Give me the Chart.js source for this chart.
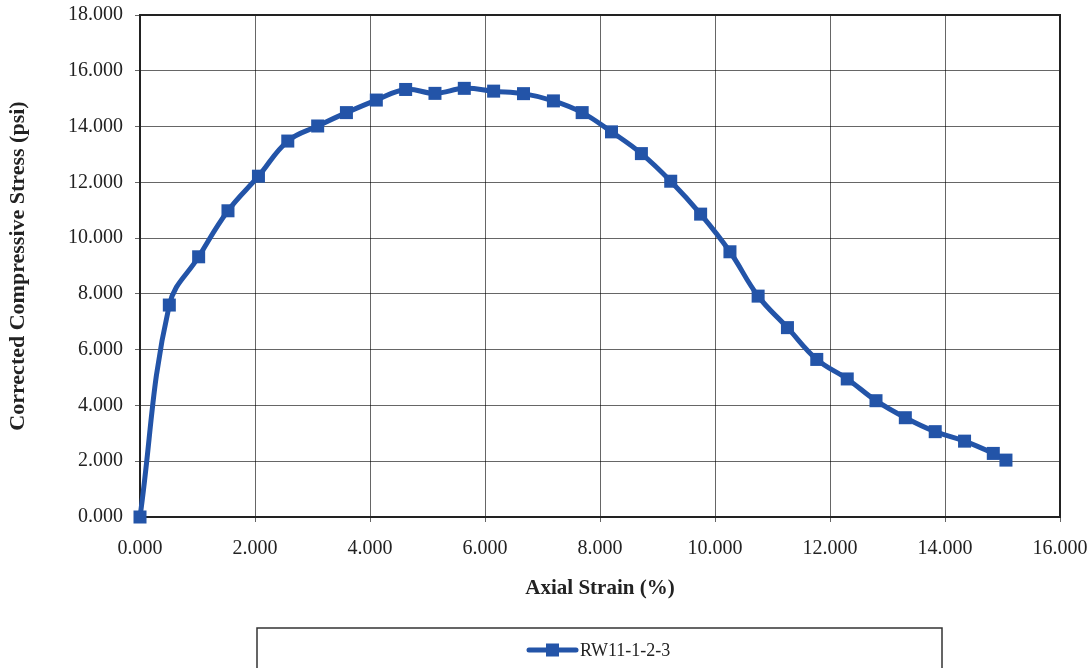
<!DOCTYPE html>
<html>
<head>
<meta charset="utf-8">
<script src="https://cdn.jsdelivr.net/npm/chart.js@4/dist/chart.umd.min.js"></script>
<style>
  html, body { margin: 0; padding: 0; background: #ffffff; }
  #wrap { width: 1092px; height: 668px; }
</style>
</head>
<body>
<div id="wrap"><canvas id="c" width="1092" height="668"></canvas></div>
<script>
// ---- data ----
const seriesName = "RW11-1-2-3";
const axialStrain = [0, 0.51, 1.02, 1.53, 2.06, 2.57, 3.09, 3.59, 4.11, 4.62, 5.13, 5.64, 6.15, 6.67, 7.19, 7.69, 8.20, 8.72, 9.23, 9.75, 10.26, 10.75, 11.26, 11.77, 12.30, 12.80, 13.31, 13.83, 14.34, 14.84, 15.06];
const stress = [0, 7.60, 9.33, 10.98, 12.22, 13.48, 14.02, 14.50, 14.95, 15.33, 15.19, 15.37, 15.27, 15.18, 14.92, 14.50, 13.81, 13.03, 12.04, 10.86, 9.51, 7.92, 6.79, 5.65, 4.95, 4.17, 3.56, 3.06, 2.72, 2.28, 2.04];
const xTitle = "Axial Strain (%)";
const yTitle = "Corrected Compressive Stress (psi)";
const xRange = [0, 16];
const yRange = [0, 18];
const tickStep = 2;

const BLUE = '#2354a8';
const SERIF = '"Liberation Serif", "Times New Roman", serif';

const points = axialStrain.map((x, i) => ({ x: x, y: stress[i] }));

const frameAndLegend = {
  id: 'frameAndLegend',
  beforeDatasetsDraw(chart) {
    const { ctx, chartArea: a } = chart;
    ctx.save();
    ctx.strokeStyle = '#222';
    ctx.lineWidth = 2;
    ctx.strokeRect(a.left, a.top, a.right - a.left, a.bottom - a.top);
    ctx.restore();
  },
  afterDraw(chart) {
    const { ctx } = chart;
    ctx.save();
    // legend box
    ctx.strokeStyle = '#333';
    ctx.lineWidth = 1.5;
    ctx.strokeRect(257, 628, 685, 60);
    // legend sample
    const ly = 650;
    ctx.strokeStyle = BLUE;
    ctx.lineWidth = 5;
    ctx.lineCap = 'round';
    ctx.beginPath();
    ctx.moveTo(529, ly);
    ctx.lineTo(576, ly);
    ctx.stroke();
    ctx.fillStyle = BLUE;
    ctx.fillRect(546, ly - 6.5, 13, 13);
    ctx.fillStyle = '#222';
    ctx.font = '18px ' + SERIF;
    ctx.textBaseline = 'middle';
    ctx.textAlign = 'left';
    ctx.fillText(seriesName, 580, ly + 1);
    ctx.restore();
  }
};

new Chart(document.getElementById('c'), {
  type: 'scatter',
  data: {
    datasets: [{
      label: seriesName,
      data: points,
      showLine: true,
      borderColor: BLUE,
      backgroundColor: BLUE,
      borderWidth: 5,
      tension: 0.4,
      pointStyle: 'rect',
      pointRadius: 9.2,
      pointHoverRadius: 9.2,
      pointBorderWidth: 0,
      clip: false
    }]
  },
  options: {
    responsive: false,
    animation: false,
    devicePixelRatio: 1,
    layout: { autoPadding: false, padding: { top: 15, right: 32, bottom: 0, left: 0 } },
    plugins: {
      legend: { display: false },
      tooltip: { enabled: false }
    },
    scales: {
      x: {
        type: 'linear',
        min: xRange[0], max: xRange[1],
        afterFit(s) { s.height = 151; s.paddingLeft = 0; s.paddingRight = 0; },
        ticks: {
          stepSize: tickStep,
          color: '#222',
          font: { family: SERIF, size: 20 },
          padding: 15,
          maxRotation: 0,
          callback: v => Number(v).toFixed(3)
        },
        grid: { color: 'rgba(0,0,0,0.6)', lineWidth: 1, tickLength: 5, drawTicks: true },
        border: { display: false },
        title: {
          display: true,
          text: xTitle,
          color: '#222',
          font: { family: SERIF, size: 21, weight: 'bold' },
          padding: { top: 0, bottom: 67 }
        }
      },
      y: {
        type: 'linear',
        min: yRange[0], max: yRange[1],
        afterFit(s) { s.width = 140; s.paddingTop = 0; s.paddingBottom = 0; },
        ticks: {
          stepSize: tickStep,
          color: '#222',
          font: { family: SERIF, size: 20 },
          padding: 12,
          callback: v => Number(v).toFixed(3)
        },
        grid: { color: 'rgba(0,0,0,0.6)', lineWidth: 1, tickLength: 5, drawTicks: true },
        border: { display: false },
        title: {
          display: true,
          text: yTitle,
          color: '#222',
          font: { family: SERIF, size: 22, weight: 'bold' },
          padding: { top: 5, bottom: 0 }
        }
      }
    }
  },
  plugins: [frameAndLegend]
});
</script>
</body>
</html>
